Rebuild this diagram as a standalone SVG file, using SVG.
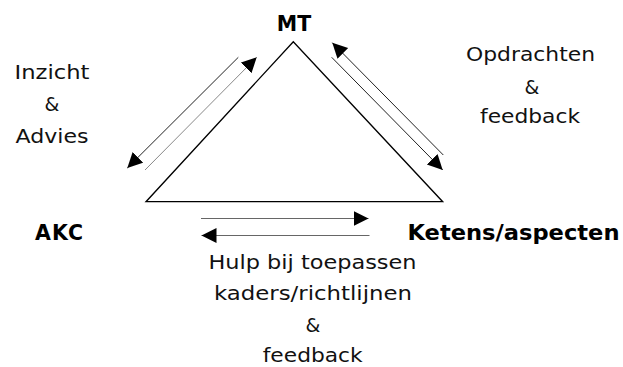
<svg xmlns="http://www.w3.org/2000/svg" width="623" height="367" viewBox="0 0 623 367">
  <style>
    .lbl { font-family: "DejaVu Sans", Verdana, sans-serif; font-size: 19px; fill: #111; text-anchor: middle; }
    .node { font-family: "DejaVu Sans", Verdana, sans-serif; font-size: 20.5px; font-weight: bold; fill: #000; }
    .tri { fill: none; stroke: #000; stroke-width: 1.3; }
    .flow { stroke: #222; stroke-width: 1; fill: none; marker-end: url(#head); }
    .flow.light { stroke: #888; }
    .flow.mid { stroke: #666; }
  </style>
  <defs>
    <marker id="head" markerUnits="userSpaceOnUse" markerWidth="16" markerHeight="16" refX="15" refY="7.5" orient="auto">
      <path d="M0,0 L15,7.5 L0,15 z" fill="#000"/>
    </marker>
  </defs>

  <rect width="623" height="367" fill="#fff"/>

  <!-- central triangle linking the three parties -->
  <g id="triangle">
    <polygon class="tri" points="293.3,41.7 146,201.7 442.7,201.7"/>
  </g>

  <g id="node-mt">
    <text class="node" x="294" y="30.5" text-anchor="middle">MT</text>
  </g>
  <g id="node-akc">
    <text class="node" x="35" y="239.5" textLength="48" lengthAdjust="spacing">AKC</text>
  </g>
  <g id="node-ketens">
    <text class="node" x="407.5" y="240" textLength="212" lengthAdjust="spacingAndGlyphs">Ketens/aspecten</text>
  </g>

  <g id="connectors">
    <!-- AKC <-> MT -->
    <line class="flow" x1="238.3" y1="57.3" x2="127.3" y2="168"/>
    <line class="flow light" x1="145" y1="170" x2="256.7" y2="57.3"/>
    <!-- MT <-> Ketens/aspecten -->
    <line class="flow" x1="443.3" y1="155" x2="332.3" y2="42.7"/>
    <line class="flow" x1="331.7" y1="57.3" x2="442.7" y2="170"/>
    <!-- AKC <-> Ketens/aspecten -->
    <line class="flow mid" x1="201" y1="218.5" x2="368.5" y2="218.5"/>
    <line class="flow mid" x1="369.5" y1="235.5" x2="201.5" y2="235.5"/>
  </g>

  <g id="label-left">
    <text class="lbl" x="52" y="78.5" textLength="75" lengthAdjust="spacingAndGlyphs">Inzicht</text>
    <text class="lbl" x="52" y="111">&amp;</text>
    <text class="lbl" x="52" y="143" textLength="73" lengthAdjust="spacingAndGlyphs">Advies</text>
  </g>

  <g id="label-right">
    <text class="lbl" x="530.5" y="60.5" textLength="129" lengthAdjust="spacingAndGlyphs">Opdrachten</text>
    <text class="lbl" x="532" y="93.5">&amp;</text>
    <text class="lbl" x="530" y="123" textLength="100" lengthAdjust="spacingAndGlyphs">feedback</text>
  </g>

  <g id="label-bottom">
    <text class="lbl" x="312.5" y="268.5" textLength="208" lengthAdjust="spacingAndGlyphs">Hulp bij toepassen</text>
    <text class="lbl" x="313" y="300" textLength="198" lengthAdjust="spacingAndGlyphs">kaders/richtlijnen</text>
    <text class="lbl" x="313" y="331.5">&amp;</text>
    <text class="lbl" x="312.7" y="361.5" textLength="100" lengthAdjust="spacingAndGlyphs">feedback</text>
  </g>
</svg>
